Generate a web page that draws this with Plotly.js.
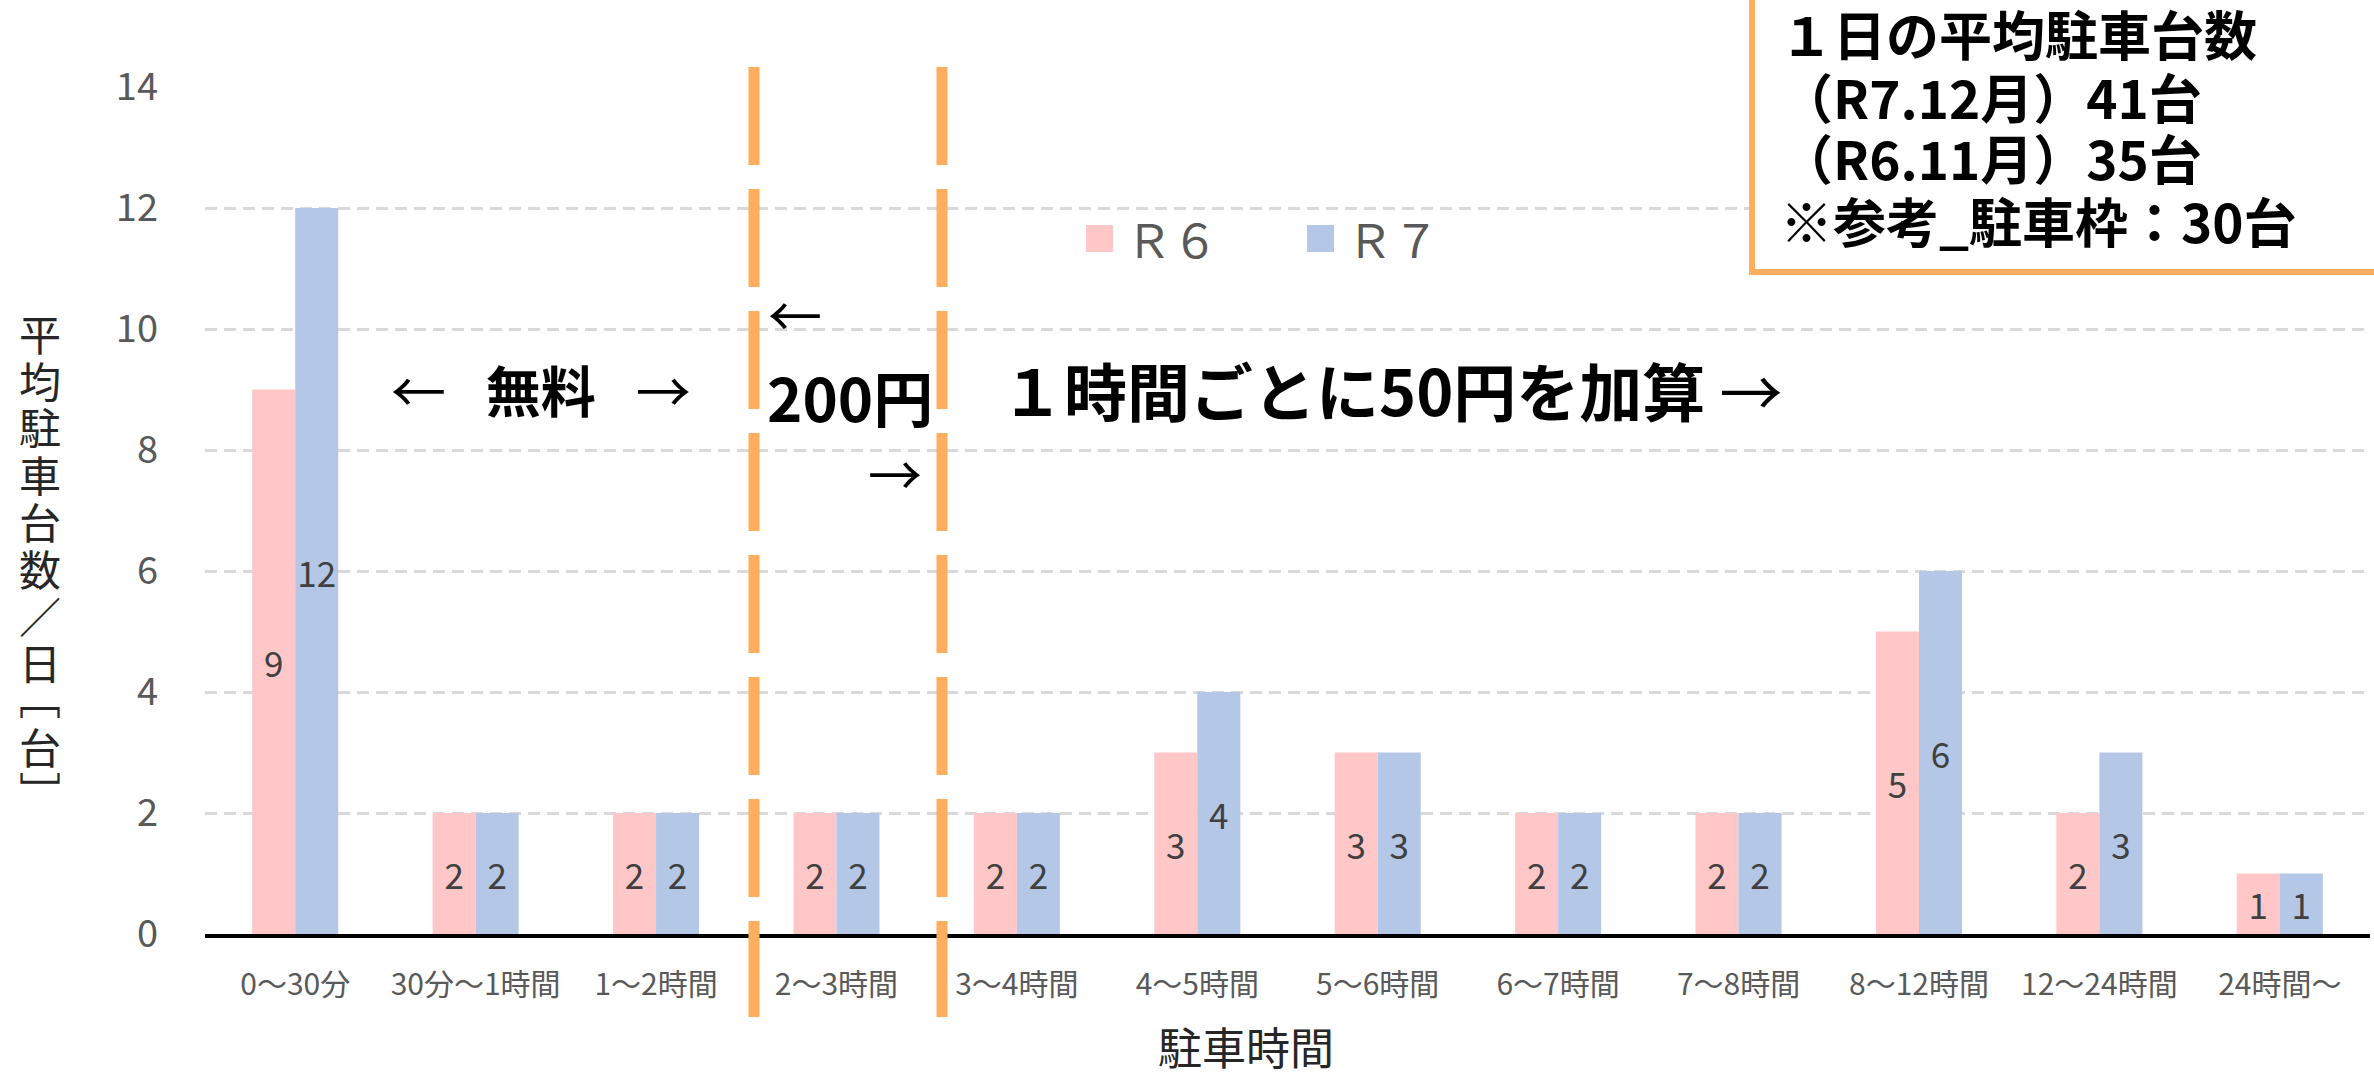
<!DOCTYPE html>
<html>
<head>
<meta charset="utf-8">
<script src="https://cdn.plot.ly/plotly-3.0.1.min.js"></script>
<style>html,body{margin:0;padding:0;background:#fff;}#chart{width:2374px;height:1073px;}</style>
</head>
<body>
<div id="chart"></div>
<script>
// ---- data ----
const categories = ['0～30分','30分～1時間','1～2時間','2～3時間','3～4時間','4～5時間','5～6時間','6～7時間','7～8時間','8～12時間','12～24時間','24時間～'];
const r6Values = [9,2,2,2,2,3,3,2,2,5,2,1];
const r7Values = [12,2,2,2,2,4,3,2,2,6,3,1];
const seriesNames = ['Ｒ６','Ｒ７'];
const yTickValues = [0,2,4,6,8,10,12,14];
const yTitleText = '平均駐車台数／日［台］';
const xTitleText = '駐車時間';
const boxLines = ['１日の平均駐車台数','（R7.12月）41台','（R6.11月）35台','※参考_駐車枠：30台'];
const freeText = '無料';
const firstFeeText = '200円';
const addFeeText = '１時間ごとに50円を加算';

// ---- layout helpers (pixel -> paper) ----
const W = 2374, H = 1073;
const M = {l:205, r:4, t:87, b:139};
const PW = W - M.l - M.r, PH = H - M.t - M.b;
const px = x => (x - M.l) / PW;
const py = y => (H - M.b - y) / PH;

const FONT = '"Noto Sans CJK JP", "Noto Sans", sans-serif';
const PINK = '#FFC7C7', BLUE = '#B4C7E7', ORANGE = '#FFAD5F';

const labelFont = {family: FONT, size: 35, color: '#404040'};
const traces = [
  {type:'bar', name:seriesNames[0], x:categories, y:r6Values, text:r6Values.map(String),
   marker:{color:PINK}, textposition:'inside', insidetextanchor:'middle', textangle:0,
   constraintext:'none', insidetextfont:labelFont, showlegend:false, hoverinfo:'x+y'},
  {type:'bar', name:seriesNames[1], x:categories, y:r7Values, text:r7Values.map(String),
   marker:{color:BLUE}, textposition:'inside', insidetextanchor:'middle', textangle:0,
   constraintext:'none', insidetextfont:labelFont, showlegend:false, hoverinfo:'x+y'}
];

const annotations = [];
// vertical y-axis title, one character per row
const vertMap = {'［':'﹇','］':'﹈'};
const yCharCenters = [332,379,426,473,520,567,614,661,695,745,790];
Array.from(yTitleText).forEach((ch, i) => {
  annotations.push({xref:'paper', yref:'paper', x:px(40), y:py(yCharCenters[i]),
    xanchor:'center', yanchor:'middle', showarrow:false, text: vertMap[ch] || ch,
    font:{family:FONT, size:42, color:'#262626'}});
});
// x-axis title
annotations.push({xref:'paper', yref:'paper', x:px(1246), y:py(1046), xanchor:'center', yanchor:'middle',
  showarrow:false, text:xTitleText, font:{family:FONT, size:44, color:'#262626'}});
// legend (manual)
annotations.push({xref:'paper', yref:'paper', x:px(1124), y:py(238), xanchor:'left', yanchor:'middle',
  showarrow:false, text:seriesNames[0], font:{family:FONT, size:46, color:'#595959'}});
annotations.push({xref:'paper', yref:'paper', x:px(1345), y:py(238), xanchor:'left', yanchor:'middle',
  showarrow:false, text:seriesNames[1], font:{family:FONT, size:46, color:'#595959'}});
// fee annotations
annotations.push({xref:'paper', yref:'paper', x:px(541), y:py(388), xanchor:'center', yanchor:'middle',
  showarrow:false, text:'←\u2002 <b>' + freeText + '</b>\u2002 →', font:{family:FONT, size:55, color:'#000'}});
annotations.push({xref:'paper', yref:'paper', x:px(795), y:py(313), xanchor:'center', yanchor:'middle',
  showarrow:false, text:'←', font:{family:FONT, size:54, color:'#000'}});
annotations.push({xref:'paper', yref:'paper', x:px(850), y:py(395), xanchor:'center', yanchor:'middle',
  showarrow:false, text:'<b>' + firstFeeText + '</b>', font:{family:FONT, size:60, color:'#000'}});
annotations.push({xref:'paper', yref:'paper', x:px(895), y:py(472), xanchor:'center', yanchor:'middle',
  showarrow:false, text:'→', font:{family:FONT, size:54, color:'#000'}});
annotations.push({xref:'paper', yref:'paper', x:px(1391), y:py(388), xanchor:'center', yanchor:'middle',
  showarrow:false, text:'<b>' + addFeeText + '</b> →', font:{family:FONT, size:63, color:'#000'}});
// info box text, one annotation per line
const boxLineCenters = [33, 96, 157, 220];
boxLines.forEach((s, i) => {
  annotations.push({xref:'paper', yref:'paper', x:px(1778), y:py(boxLineCenters[i]), xanchor:'left', yanchor:'middle',
    align:'left', showarrow:false, text:'<b>' + s + '</b>', font:{family:FONT, size:53, color:'#000'}});
});

const shapes = [
  // price boundary dashed lines
  {type:'line', xref:'paper', yref:'paper', x0:px(754), x1:px(754), y0:py(67), y1:py(1017),
   line:{color:ORANGE, width:11, dash:'98px,24px'}, layer:'above'},
  {type:'line', xref:'paper', yref:'paper', x0:px(942), x1:px(942), y0:py(67), y1:py(1017),
   line:{color:ORANGE, width:11, dash:'98px,24px'}, layer:'above'},
  // info box
  {type:'rect', xref:'paper', yref:'paper', x0:px(1752), x1:px(2400), y0:py(272), y1:py(-20),
   fillcolor:'#FFFFFF', line:{color:ORANGE, width:6}, layer:'above'},
  // legend swatches
  {type:'rect', xref:'paper', yref:'paper', x0:px(1086), x1:px(1113), y0:py(252), y1:py(225),
   fillcolor:PINK, line:{width:0}},
  {type:'rect', xref:'paper', yref:'paper', x0:px(1307), x1:px(1334), y0:py(252), y1:py(225),
   fillcolor:BLUE, line:{width:0}}
];

const layout = {
  width: W, height: H,
  margin: M,
  paper_bgcolor:'#FFFFFF', plot_bgcolor:'#FFFFFF',
  font:{family:FONT, color:'#595959'},
  barmode:'group', bargap:0.523, bargroupgap:0,
  showlegend:false,
  xaxis:{type:'category', range:[-0.5, 11.5], showgrid:false, zeroline:false,
    showline:true, linecolor:'#000000', linewidth:4, ticks:'', tickangle:0,
    ticklabelstandoff:21, tickfont:{family:FONT, size:30, color:'#595959'}, fixedrange:true},
  yaxis:{range:[0,14], tickvals:yTickValues, ticktext:yTickValues.map(String), showgrid:true,
    gridcolor:'#D9D9D9', gridwidth:3, griddash:'12px,7px', zeroline:false, showline:false, ticks:'',
    ticklabelstandoff:46, tickfont:{family:FONT, size:38, color:'#595959'}, fixedrange:true},
  annotations: annotations,
  shapes: shapes
};

Plotly.newPlot('chart', traces, layout, {displayModeBar:false, staticPlot:true});
</script>
</body>
</html>
